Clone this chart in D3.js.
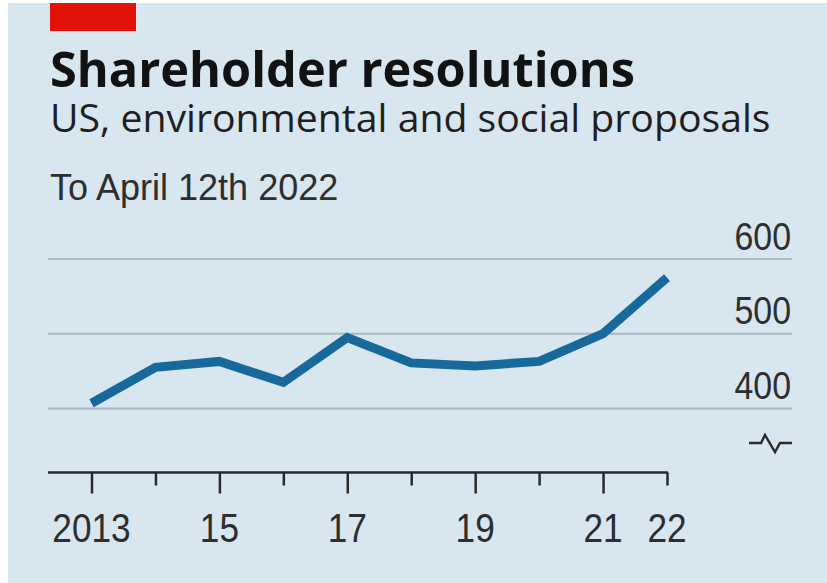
<!DOCTYPE html>
<html>
<head>
<meta charset="utf-8">
<script src="https://cdn.jsdelivr.net/npm/d3@7"></script>
<style>
  html, body { margin: 0; padding: 0; background: #ffffff; }
  svg { display: block; }
</style>
</head>
<body>
<script>
// Shareholder resolutions: US environmental and social proposals per year
const years = [2013, 2014, 2015, 2016, 2017, 2018, 2019, 2020, 2021, 2022];
const proposals = [407, 455, 463, 435, 495, 461, 457, 463, 500, 575];
const yTicks = [400, 500, 600];
const xLabelYears = [2013, 2015, 2017, 2019, 2021, 2022];
const xLabels = ["2013", "15", "17", "19", "21", "22"];

const W = 827, H = 583;
const cond = "'Liberation Sans', Arial, sans-serif";
const squeeze = 0.88; // horizontal compression for the condensed look

const svg = d3.select("body").append("svg")
  .attr("width", W).attr("height", H);

// panel background with thin white margin on the left and top
svg.append("rect").attr("x", 8).attr("y", 3).attr("width", W - 8).attr("height", H - 3)
  .attr("fill", "#d7e6ef");

// red tag
svg.append("rect").attr("x", 50).attr("y", 3).attr("width", 86).attr("height", 28)
  .attr("fill", "#e3120b");

// headings
svg.append("text").attr("x", 50).attr("y", 87)
  .attr("font-family", "'Open Sans', sans-serif").attr("font-weight", 700)
  .attr("font-size", 48.7).attr("fill", "#121212")
  .text("Shareholder resolutions");

svg.append("text").attr("x", 50).attr("y", 132)
  .attr("font-family", "'Open Sans', sans-serif").attr("font-weight", 400)
  .attr("font-size", 39.2).attr("fill", "#1f1f1f")
  .text("US, environmental and social proposals");

svg.append("text")
  .attr("transform", "translate(50,200)")
  .attr("font-family", cond)
  .attr("font-size", 36).attr("fill", "#2e2e2e")
  .text("To April 12th 2022");

// scales
const x = d3.scaleLinear().domain([2013, 2022]).range([91.5, 667]);
const y = d3.scaleLinear().domain([400, 600]).range([408.5, 259]);

// horizontal gridlines with right-aligned labels
const grid = svg.append("g");
grid.selectAll("line").data(yTicks).join("line")
  .attr("x1", 48).attr("x2", 792)
  .attr("y1", d => y(d)).attr("y2", d => y(d))
  .attr("stroke", "#a9b8c2").attr("stroke-width", 2);
grid.selectAll("text").data(yTicks).join("text")
  .attr("transform", d => `translate(791,${y(d) - 9.5}) scale(${squeeze},1)`)
  .attr("text-anchor", "end")
  .attr("font-family", cond).attr("font-size", 38.5).attr("fill", "#2e2e2e")
  .text(d => d);

// axis break symbol below the baseline
const by = 443;
svg.append("path")
  .attr("d", `M749,${by} L761,${by} L765,${by - 8} L775,${by + 9} L780,${by} L792,${by}`)
  .attr("fill", "none").attr("stroke", "#2a2a2a").attr("stroke-width", 2.4)
  .attr("stroke-linejoin", "miter");

// x axis
const axisY = 472.5;
const xAxis = d3.axisBottom(x)
  .tickValues(years)
  .tickSize(0)
  .tickFormat("");
const axG = svg.append("g").attr("transform", `translate(0,${axisY})`).call(xAxis);
axG.select(".domain").remove();
axG.append("line").attr("x1", 48).attr("x2", x(2022) + 1)
  .attr("stroke", "#2a2a2a").attr("stroke-width", 2.5);
axG.selectAll(".tick line")
  .attr("y2", d => (d % 2 === 1 ? 21 : 13))
  .attr("stroke", "#2a2a2a").attr("stroke-width", 2.5);

svg.append("g").selectAll("text").data(xLabelYears).join("text")
  .attr("transform", d => `translate(${x(d)},541.5) scale(${squeeze},1)`)
  .attr("text-anchor", "middle")
  .attr("font-family", cond).attr("font-size", 40).attr("fill", "#2e2e2e")
  .text((d, i) => xLabels[i]);

// data line
const line = d3.line().x((d, i) => x(years[i])).y(d => y(d));
svg.append("path").datum(proposals)
  .attr("d", line)
  .attr("fill", "none").attr("stroke", "#17699c").attr("stroke-width", 9)
  .attr("stroke-linejoin", "miter").attr("stroke-linecap", "butt");
</script>
</body>
</html>
